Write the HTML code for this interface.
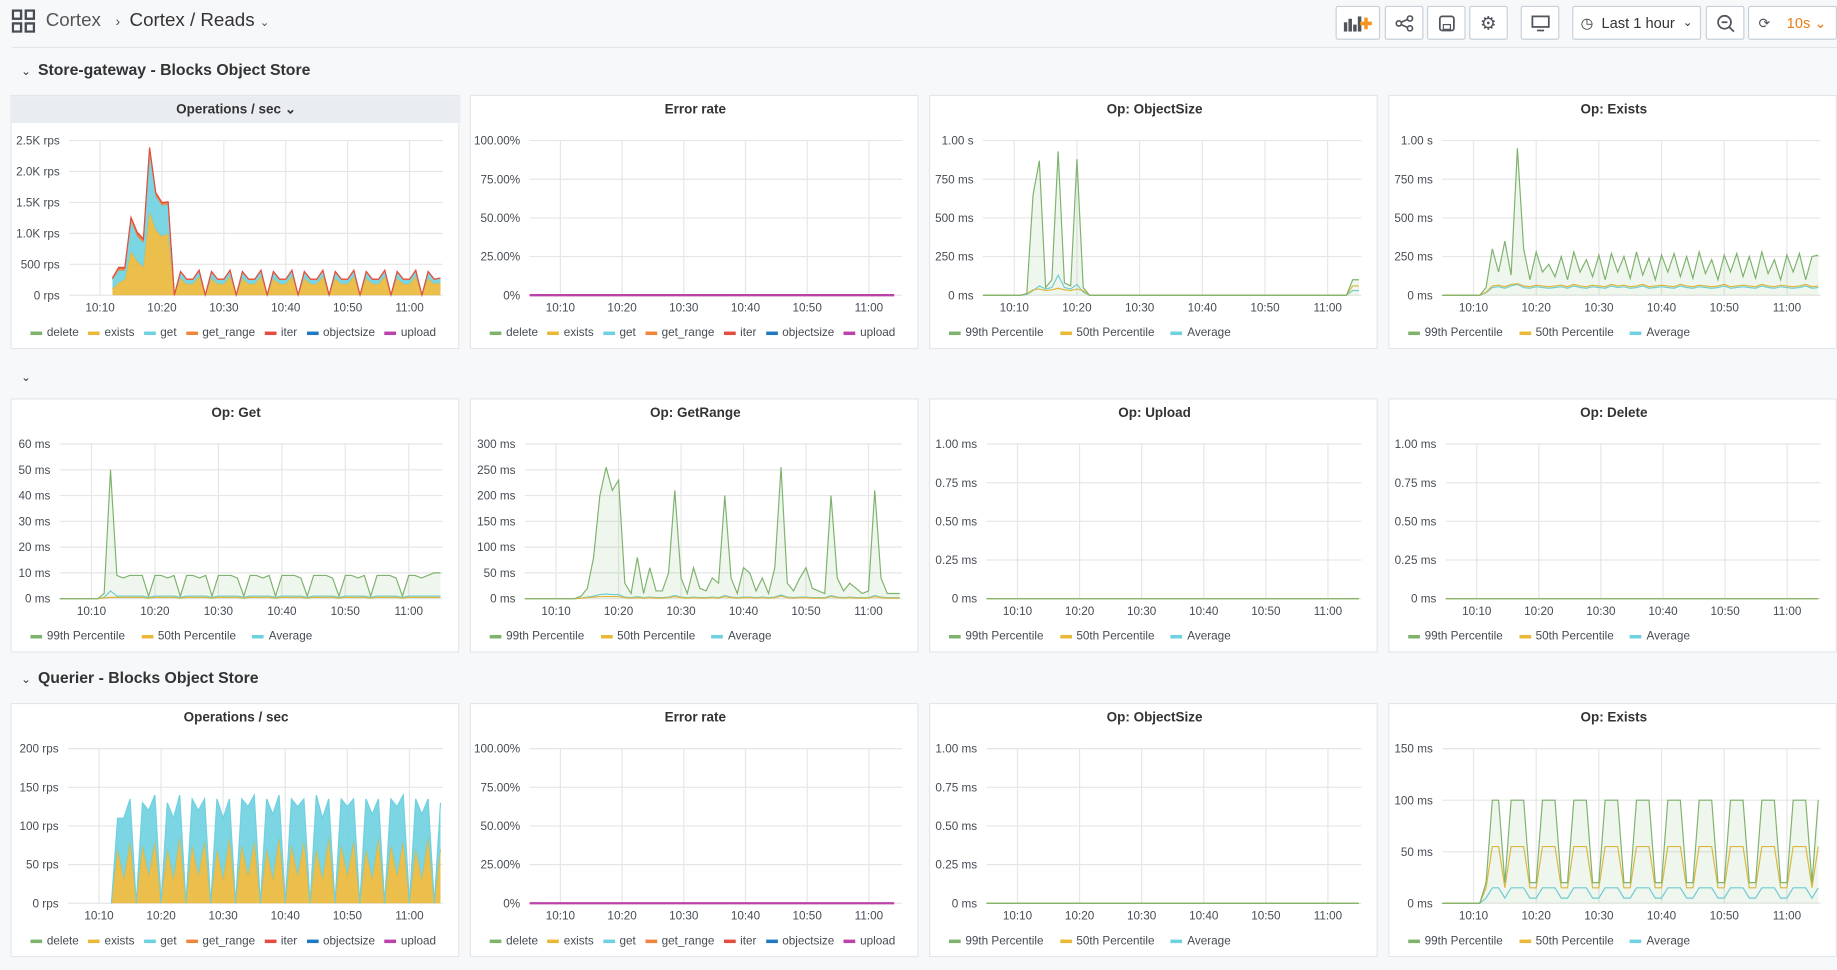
<!DOCTYPE html>
<html><head><meta charset="utf-8">
<style>
html,body{margin:0;padding:0;background:#f7f8fa;width:1837px;height:970px;overflow:hidden;font-family:"Liberation Sans",sans-serif;color:#464c54}
#wrap{position:absolute;left:0;top:0;width:1568px;height:828px;transform:scale(1.17155);transform-origin:0 0}
.abs{position:absolute}
.btn{position:absolute;top:5px;height:29px;border:1px solid #c7d0d9;border-radius:2px;background:#fff;box-sizing:border-box;display:flex;align-items:center;justify-content:center;font-size:12px;color:#52545c}
.panel{position:absolute;width:383px;height:217px;background:#fff;border:1px solid #e4e6ea;box-sizing:border-box}
.panel svg{position:absolute;left:0;top:0}
.legend{position:absolute;left:16px;top:197px;display:flex;gap:8px;font-size:10px;color:#464c54;white-space:nowrap}
.legend span{display:flex;align-items:center}
.legend i{display:inline-block;width:10px;height:3px;margin-right:4px}
.rowtitle{position:absolute;left:18px;font-size:13.5px;font-weight:bold;color:#333}
</style></head><body>
<div id="wrap">
  <svg class="abs" style="left:10px;top:8px" width="20" height="20"><g fill="none" stroke="#464c54" stroke-width="2"><rect x="1" y="1" width="7" height="7"/><rect x="12" y="1" width="7" height="7"/><rect x="1" y="12" width="7" height="7"/><rect x="12" y="12" width="7" height="7"/></g></svg>
  <div class="abs" style="left:39px;top:9px;font-size:16px;color:#555">Cortex <span style="font-size:12px;margin:0 8px">›</span><span style="color:#333">Cortex / Reads</span> <span style="font-size:10px">⌄</span></div>
  <div class="btn" style="left:1140px;width:38px"><svg width="24" height="14"><g fill="#52545c"><rect x="0" y="6" width="3" height="8"/><rect x="4" y="3" width="3" height="11"/><rect x="8" y="8" width="3" height="6"/><rect x="12" y="1" width="3" height="13"/></g><path d="M19 2v10M14 7h10" stroke="#f7941d" stroke-width="3"/></svg></div>
  <div class="btn" style="left:1182px;width:33px"><svg width="16" height="14"><g fill="none" stroke="#52545c" stroke-width="1.4"><circle cx="3" cy="7" r="2.2"/><circle cx="12.5" cy="2.8" r="2.2"/><circle cx="12.5" cy="11.2" r="2.2"/><path d="M5 6l5.5-2.5M5 8l5.5 2.5"/></g></svg></div>
  <div class="btn" style="left:1218px;width:33px"><svg width="14" height="14"><rect x="1" y="1" width="12" height="12" rx="2" fill="none" stroke="#52545c" stroke-width="1.5"/><rect x="4" y="8" width="6" height="4" fill="none" stroke="#52545c"/></svg></div>
  <div class="btn" style="left:1254px;width:33px;font-size:16px">⚙</div>
  <div class="btn" style="left:1298px;width:33px"><svg width="16" height="14"><rect x="1" y="1" width="14" height="9" fill="none" stroke="#52545c" stroke-width="1.5"/><path d="M5 13h6" stroke="#52545c" stroke-width="1.5"/></svg></div>
  <div class="btn" style="left:1342px;width:110px;font-size:12.5px;color:#333">◷&nbsp; Last 1 hour &nbsp;<span style="font-size:10px">⌄</span></div>
  <div class="btn" style="left:1456px;width:33px"><svg width="16" height="16"><circle cx="7" cy="7" r="5.5" fill="none" stroke="#52545c" stroke-width="1.5"/><path d="M4.5 7h5M11 11l4 4" stroke="#52545c" stroke-width="1.5"/></svg></div>
  <div class="btn" style="left:1492px;width:76px;justify-content:flex-start;padding-left:8px">⟳<span style="color:#eb7b18;font-size:12.5px;margin-left:14px">10s ⌄</span></div>
  <div class="abs" style="left:10px;top:40px;width:1558px;height:1px;background:#e4e6ea"></div>

  <div class="rowtitle" style="top:52px"><span style="font-size:10px;font-weight:normal;margin-right:6px">⌄</span>Store-gateway - Blocks Object Store</div>
  <div class="rowtitle" style="top:313px"><span style="font-size:10px;font-weight:normal">⌄</span></div>
  <div class="rowtitle" style="top:571px"><span style="font-size:10px;font-weight:normal;margin-right:6px">⌄</span>Querier - Blocks Object Store</div>
  <div id="panels"></div>
</div>
<script>
// ---- data: one value per minute, 10:05 .. 11:05 ----
const N = null;
const zeros = [0,0,0,0,0,0,0,0,0,0,0,0,0,0,0,0,0,0,0,0,0,0,0,0,0,0,0,0,0,0,0,0,0,0,0,0,0,0,0,0,0,0,0,0,0,0,0,0,0,0,0,0,0,0,0,0,0,0,0,0,0];
const opsZero = [N,N,N,N,N,N,N,0,0,0,0,0,0,0,0,0,0,0,0,0,0,0,0,0,0,0,0,0,0,0,0,0,0,0,0,0,0,0,0,0,0,0,0,0,0,0,0,0,0,0,0,0,0,0,0,0,0,0,0,0,0];
const sgExists = [N,N,N,N,N,N,N,100,200,250,700,550,450,1350,1050,950,1000,0,270,180,180,300,0,270,180,180,300,0,270,180,180,300,0,270,180,180,300,0,270,180,180,300,0,270,180,180,300,0,270,180,180,300,0,270,180,180,300,0,270,180,200];
const sgGet = [N,N,N,N,N,N,N,150,200,150,500,400,400,950,550,500,470,0,100,70,70,90,0,100,70,70,90,0,100,70,70,90,0,100,70,70,90,0,100,70,70,90,0,100,70,70,90,0,100,70,70,90,0,100,70,70,90,0,100,70,70];
const sgGetRange = [N,N,N,N,N,N,N,20,30,30,40,40,40,60,40,30,30,0,10,5,5,10,0,10,5,5,10,0,10,5,5,10,0,10,5,5,10,0,10,5,5,10,0,10,5,5,10,0,10,5,5,10,0,10,5,5,10,0,10,5,5];
const sgIter = [N,N,N,N,N,N,N,10,20,20,20,30,20,30,20,20,10,0,5,5,5,5,0,5,5,5,5,0,5,5,5,5,0,5,5,5,5,0,5,5,5,5,0,5,5,5,5,0,5,5,5,5,0,5,5,5,5,0,5,5,5];
const osP99 = [0,0,0,0,0,0,0,10,650,870,50,100,930,80,60,880,50,0,0,0,0,0,0,0,0,0,0,0,0,0,0,0,0,0,0,0,0,0,0,0,0,0,0,0,0,0,0,0,0,0,0,0,0,0,0,0,0,0,0,100,100];
const osP50 = [0,0,0,0,0,0,0,10,35,40,30,35,45,35,30,40,30,0,0,0,0,0,0,0,0,0,0,0,0,0,0,0,0,0,0,0,0,0,0,0,0,0,0,0,0,0,0,0,0,0,0,0,0,0,0,0,0,0,0,60,60];
const osAvg = [0,0,0,0,0,0,0,5,30,60,40,50,130,50,40,70,20,0,0,0,0,0,0,0,0,0,0,0,0,0,0,0,0,0,0,0,0,0,0,0,0,0,0,0,0,0,0,0,0,0,0,0,0,0,0,0,0,0,0,30,30];
const exP99 = [0,0,0,0,0,0,0,50,300,150,350,130,950,300,100,280,150,200,120,250,100,280,150,230,120,260,100,270,150,250,110,280,130,240,100,260,150,270,120,250,110,280,140,230,100,260,150,270,120,250,110,280,140,230,100,260,150,270,100,250,260];
const exP50 = [0,0,0,0,0,0,0,20,60,65,55,70,75,60,55,65,60,55,60,65,55,70,60,55,65,60,55,70,60,65,55,60,70,55,60,65,60,55,70,60,55,65,60,55,60,70,55,60,65,60,55,70,60,55,65,60,55,60,70,55,60];
const exAvg = [0,0,0,0,0,0,0,15,50,55,45,60,70,50,45,55,50,45,50,55,45,60,50,45,55,50,45,60,50,55,45,50,60,45,50,55,50,45,60,50,45,55,50,45,50,60,45,50,55,50,45,60,50,45,55,50,45,50,60,45,50];
const getP99 = [0,0,0,0,0,0,0,2,50,9,8,9,9,9,1,9,9,8,9,1,9,9,8,9,1,9,9,9,8,1,9,9,8,9,1,9,9,9,8,1,9,9,9,8,1,9,9,8,9,1,9,9,9,8,1,9,9,8,9,10,10];
const getP50 = [0,0,0,0,0,0,0,0.3,0.5,0.5,0.5,0.5,0.5,0.5,0.2,0.5,0.5,0.5,0.5,0.2,0.5,0.5,0.5,0.5,0.2,0.5,0.5,0.5,0.5,0.2,0.5,0.5,0.5,0.5,0.2,0.5,0.5,0.5,0.5,0.2,0.5,0.5,0.5,0.5,0.2,0.5,0.5,0.5,0.5,0.2,0.5,0.5,0.5,0.5,0.2,0.5,0.5,0.5,0.5,0.5,0.5];
const getAvg = [0,0,0,0,0,0,0,0.5,3,1,1,1,1,1,0.5,1,1,1,1,0.5,1,1,1,1,0.5,1,1,1,1,0.5,1,1,1,1,0.5,1,1,1,1,0.5,1,1,1,1,0.5,1,1,1,1,0.5,1,1,1,1,0.5,1,1,1,1,1,1];
const grP99 = [0,0,0,0,0,0,0,0,0,5,20,80,200,255,210,230,30,10,80,10,60,15,15,50,210,40,10,60,20,15,40,30,200,40,10,60,50,15,40,10,60,255,30,15,40,60,20,15,10,200,40,15,30,20,10,15,210,40,10,10,10];
const grP50 = [0,0,0,0,0,0,0,0,0,1,2,3,4,4,4,4,2,1,2,1,2,1,1,2,4,2,1,2,1,1,2,1,4,2,1,2,2,1,2,1,2,5,2,1,2,2,1,1,1,4,2,1,2,1,1,1,4,2,1,1,1];
const grAvg = [0,0,0,0,0,0,0,0,0,1,3,5,8,9,8,8,3,2,4,2,3,2,2,3,6,3,2,3,2,2,3,2,6,3,2,3,3,2,3,2,3,7,3,2,3,3,2,2,2,6,3,2,3,2,2,2,6,3,2,2,2];
const qExists = [N,N,N,N,N,N,N,0,70,30,80,0,75,35,80,0,70,30,85,0,75,35,80,0,70,30,85,0,75,35,80,0,70,30,85,0,75,35,80,0,70,30,85,0,75,35,80,0,70,30,85,0,75,35,80,0,70,30,85,0,70];
const qGet = [N,N,N,N,N,N,N,0,40,80,55,0,55,85,60,0,60,80,55,0,60,85,55,0,65,80,50,0,60,90,60,0,65,85,55,0,60,90,55,0,70,80,50,0,60,90,55,0,65,85,50,0,60,90,60,0,65,85,50,0,60];
const qExP99 = [0,0,0,0,0,0,0,20,100,100,20,100,100,100,20,20,100,100,100,20,20,100,100,100,20,20,100,100,100,20,20,100,100,100,20,20,100,100,100,20,20,100,100,100,20,20,100,100,100,20,20,100,100,100,20,20,100,100,100,20,100];
const qExP50 = [0,0,0,0,0,0,0,15,55,55,15,55,55,55,15,15,55,55,55,15,15,55,55,55,15,15,55,55,55,15,15,55,55,55,15,15,55,55,55,15,15,55,55,55,15,15,55,55,55,15,15,55,55,55,15,15,55,55,55,15,55];
const qExAvg = [0,0,0,0,0,0,0,5,15,15,5,15,15,15,5,5,15,15,15,5,5,15,15,15,5,5,15,15,15,5,5,15,15,15,5,5,15,15,15,5,5,15,15,15,5,5,15,15,15,5,5,15,15,15,5,5,15,15,15,5,15];
const xTickLabels = ["10:10","10:20","10:30","10:40","10:50","11:00"];
const xTickMinutes = [5,15,25,35,45,55];
const opsLegend = ["delete","exists","get","get_range","iter","objectsize","upload"];
const latLegend = ["99th Percentile","50th Percentile","Average"];

const C = {delete:"#7eb26d",exists:"#eab839",get:"#6ed0e0",get_range:"#ef843c",iter:"#e24d42",objectsize:"#1f78c1",upload:"#ba43a9"};
const LC = ["#7eb26d","#eab839","#6ed0e0"];
const NS = "http://www.w3.org/2000/svg";

function mk(tag, attrs, parent){const e=document.createElementNS(NS,tag);for(const k in attrs)e.setAttribute(k,attrs[k]);if(parent)parent.appendChild(e);return e;}

function panel(cfg){
  const div=document.createElement('div');
  div.className='panel';
  div.style.left=cfg.x+'px';div.style.top=cfg.y+'px';
  
  
  document.getElementById('panels').appendChild(div);
  const W=383,H=217;
  const svg=mk('svg',{width:W,height:H});
  div.appendChild(svg);
  if(cfg.hl){mk('rect',{x:0,y:0,width:W,height:23,fill:"#e9edf2"},svg);}
  const t=mk('text',{x:W/2,y:15,'text-anchor':'middle','font-size':11.5,'font-weight':'bold',fill:'#333','font-family':'Liberation Sans'},svg);
  t.textContent=cfg.title+(cfg.hl?' ⌄':'');
  
  
  const L=cfg.left, R=366, T=38, B=170;
  const xs=m=>L+m/60*(R-L);
  const ys=v=>B-v/cfg.yMax*(B-T);
  cfg.yLabels.forEach((lab,i)=>{
    const v=cfg.yMax*i/(cfg.yLabels.length-1);
    mk('line',{x1:L,x2:R+2,y1:ys(v),y2:ys(v),stroke:'#e6e6e6'},svg);
    const tx=mk('text',{x:L-8,y:ys(v)+3.5,'text-anchor':'end','font-size':10,fill:'#464c54','font-family':'Liberation Sans'},svg);
    tx.textContent=lab;
    
    
  });
  xTickMinutes.forEach((m,i)=>{
    mk('line',{x1:xs(m),x2:xs(m),y1:T,y2:B,stroke:'#e6e6e6'},svg);
    const tx=mk('text',{x:xs(m),y:B+14,'text-anchor':'middle','font-size':10,fill:'#464c54','font-family':'Liberation Sans'},svg);
    tx.textContent=xTickLabels[i];
    
    
  });
  if(cfg.stack){
    const base=new Array(61).fill(0);
    cfg.stack.forEach(([key,arr])=>{
      let top=[],bot=[],any=false;
      for(let i=0;i<61;i++){if(arr[i]===null)continue;if(arr[i]>0)any=true;bot.push([xs(i),ys(base[i])]);base[i]+=arr[i];top.push([xs(i),ys(base[i])]);}
      if(!any)return;
      const pts=top.concat(bot.reverse()).map(p=>p.join(',')).join(' ');
      const p=mk('polygon',{points:pts,fill:C[key],'fill-opacity':cfg.fillOp,stroke:'none'},svg);
      
      
      const l=mk('polyline',{points:top.map(p=>p.join(',')).join(' '),fill:'none',stroke:C[key],'stroke-width':1},svg);
      
      
    });
  }
  if(cfg.lines){
    const ord=[2,1,0];
    ord.forEach(k=>{
      const arr=cfg.lines[k];
      const pts=[];for(let i=0;i<61;i++){if(arr[i]!==null)pts.push([xs(i),ys(arr[i])]);}
      const s=pts.map(p=>p.join(',')).join(' ');
      if(k===0){const a=mk('polygon',{points:s+' '+pts[pts.length-1][0]+','+B+' '+pts[0][0]+','+B,fill:LC[0],'fill-opacity':0.12},svg);
        
        }
      const l=mk('polyline',{points:s,fill:'none',stroke:LC[k],'stroke-width':1},svg);
      
      
    });
  }
  const leg=document.createElement('div');leg.className='legend';
  
  
  const names=cfg.legend==='ops'?opsLegend:latLegend;
  names.forEach((n,i)=>{const s=document.createElement('span');
    
    
    const col=cfg.legend==='ops'?C[n]:LC[i];
    s.innerHTML='<i style="background:'+col+'"></i>'+n;leg.appendChild(s);});
  if(cfg.legend!=='ops')leg.style.gap='14px';
  div.appendChild(leg);
}
const PX=[9,401,793,1185];
const rpsL=["0 rps","500 rps","1.0K rps","1.5K rps","2.0K rps","2.5K rps"];
const pctL=["0%","25.00%","50.00%","75.00%","100.00%"];
const sL=["0 ms","250 ms","500 ms","750 ms","1.00 s"];
const msSmall=["0 ms","0.25 ms","0.50 ms","0.75 ms","1.00 ms"];
const sgStack=[["delete",opsZero],["exists",sgExists],["get",sgGet],["get_range",sgGetRange],["iter",sgIter],["objectsize",opsZero],["upload",opsZero]];
const qStack=[["delete",opsZero],["exists",qExists],["get",qGet],["get_range",opsZero],["iter",opsZero],["objectsize",opsZero],["upload",opsZero]];
function errPanel(x,y,name){panel({name,x,y,title:"Error rate",left:50,yMax:100,yLabels:pctL,lines:null,legend:'ops'});
  const svgs=document.querySelectorAll('#panels .panel svg');const svg=svgs[svgs.length-1];
  const L=50,R=366,B=170;
  const pts=[];for(let i=0;i<61;i++)pts.push([L+i/60*(R-L)*0.985,B-zeros[i]]);
  const l=mk('polyline',{points:pts.map(p=>p.join(',')).join(' '),fill:'none',stroke:'#ba43a9','stroke-width':2},svg);
  
  
}
panel({name:"sg-operations-panel",x:PX[0],y:81,title:"Operations / sec",hl:true,left:49,yMax:2500,yLabels:rpsL,stack:sgStack,fillOp:0.9,legend:'ops'});
errPanel(PX[1],81,"sg-error-rate-panel");
panel({name:"sg-objectsize-panel",x:PX[2],y:81,title:"Op: ObjectSize",left:45,yMax:1000,yLabels:sL,lines:[osP99,osP50,osAvg],legend:'lat'});
panel({name:"sg-exists-panel",x:PX[3],y:81,title:"Op: Exists",left:45,yMax:1000,yLabels:sL,lines:[exP99,exP50,exAvg],legend:'lat'});
panel({name:"sg-get-panel",x:PX[0],y:340,title:"Op: Get",left:41,yMax:60,yLabels:["0 ms","10 ms","20 ms","30 ms","40 ms","50 ms","60 ms"],lines:[getP99,getP50,getAvg],legend:'lat'});
panel({name:"sg-getrange-panel",x:PX[1],y:340,title:"Op: GetRange",left:46,yMax:300,yLabels:["0 ms","50 ms","100 ms","150 ms","200 ms","250 ms","300 ms"],lines:[grP99,grP50,grAvg],legend:'lat'});
panel({name:"sg-upload-panel",x:PX[2],y:340,title:"Op: Upload",left:48,yMax:1,yLabels:msSmall,lines:[zeros,zeros,zeros],legend:'lat'});
panel({name:"sg-delete-panel",x:PX[3],y:340,title:"Op: Delete",left:48,yMax:1,yLabels:msSmall,lines:[zeros,zeros,zeros],legend:'lat'});
panel({name:"q-operations-panel",x:PX[0],y:600,title:"Operations / sec",left:48,yMax:200,yLabels:["0 rps","50 rps","100 rps","150 rps","200 rps"],stack:qStack,fillOp:0.9,legend:'ops'});
errPanel(PX[1],600,"q-error-rate-panel");
panel({name:"q-objectsize-panel",x:PX[2],y:600,title:"Op: ObjectSize",left:48,yMax:1,yLabels:msSmall,lines:[zeros,zeros,zeros],legend:'lat'});
panel({name:"q-exists-panel",x:PX[3],y:600,title:"Op: Exists",left:45,yMax:150,yLabels:["0 ms","50 ms","100 ms","150 ms"],lines:[qExP99,qExP50,qExAvg],legend:'lat'});
</script>
</body></html>
